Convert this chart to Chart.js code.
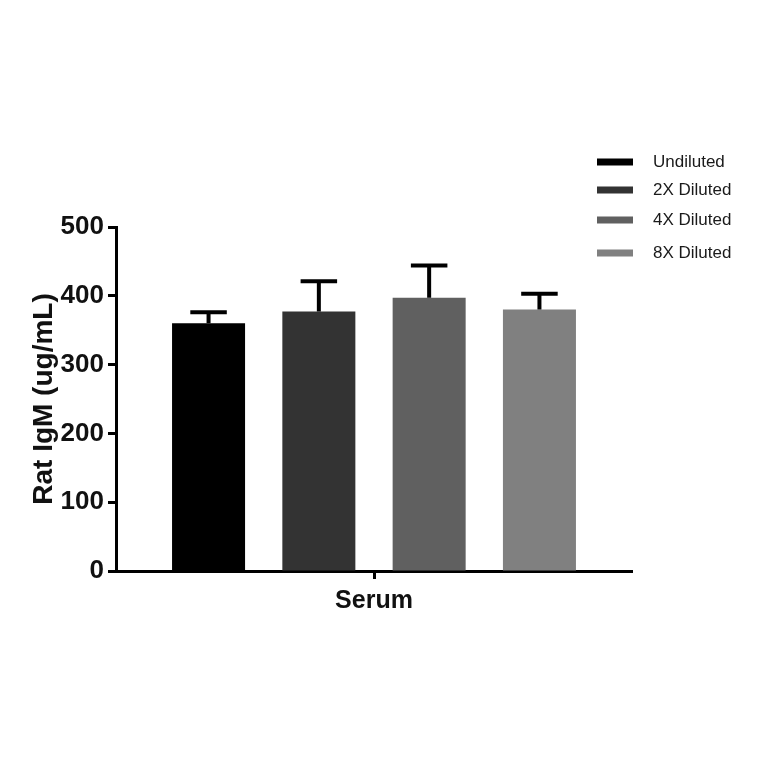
<!DOCTYPE html>
<html>
<head>
<meta charset="utf-8">
<script src="https://cdn.jsdelivr.net/npm/chart.js@4.4.1/dist/chart.umd.min.js"></script>
<style>
  html, body { margin: 0; padding: 0; background: #fff; }
  canvas { display: block; }
</style>
</head>
<body>
<canvas id="igmChart" width="764" height="764"></canvas>
<script>
// --- DATA ---
const categories = ['Serum'];
const seriesNames = ['Undiluted', '2X Diluted', '4X Diluted', '8X Diluted'];
const meanValues = [360, 377, 397, 380];
const errorTops = [376, 421, 444, 403];   // mean + SD
const barColors = ['#000000', '#333333', '#606060', '#808080'];
const yTicks = [0, 100, 200, 300, 400, 500];

const axisFont = 'Liberation Sans, Arial, sans-serif';

// --- ERROR BARS (upper only, like the original) ---
const errorBarPlugin = {
    id: 'errorBars',
    afterDatasetsDraw(chart) {
        const ctx = chart.ctx;
        const y = chart.scales.y;
        ctx.save();
        ctx.strokeStyle = '#000';
        ctx.lineWidth = 4;
        chart.data.datasets.forEach((ds, i) => {
            const bar = chart.getDatasetMeta(i).data[0];
            const top = y.getPixelForValue(errorTops[i]);
            const half = bar.width / 4;
            ctx.beginPath();
            ctx.moveTo(bar.x, bar.y);
            ctx.lineTo(bar.x, top);
            ctx.moveTo(bar.x - half, top);
            ctx.lineTo(bar.x + half, top);
            ctx.stroke();
        });
        ctx.restore();
    }
};

// --- LEGEND (top right, outside the plot) ---
const legendRows = [162, 190, 220, 253];
const sideLegendPlugin = {
    id: 'sideLegend',
    afterDraw(chart) {
        const ctx = chart.ctx;
        ctx.save();
        ctx.font = '17px ' + axisFont;
        ctx.textBaseline = 'middle';
        seriesNames.forEach((name, i) => {
            ctx.fillStyle = barColors[i];
            ctx.fillRect(597, legendRows[i] - 3.5, 36, 7);
            ctx.fillStyle = '#1a1a1a';
            ctx.fillText(name, 653, legendRows[i]);
        });
        ctx.restore();
    }
};

const ctx = document.getElementById('igmChart').getContext('2d');
const igmChart = new Chart(ctx, {
    type: 'bar',
    data: {
        labels: categories,
        datasets: seriesNames.map((name, i) => ({
            label: name,
            data: [meanValues[i]],
            backgroundColor: barColors[i],
            borderWidth: 0,
            categoryPercentage: 0.855,
            barPercentage: 0.662
        }))
    },
    options: {
        responsive: false,
        animation: false,
        devicePixelRatio: 1,
        layout: { padding: { left: 0, right: 132, top: 227, bottom: 0 } },
        plugins: { legend: { display: false }, tooltip: { enabled: false } },
        scales: {
            x: {
                afterFit(scale) { scale.height = 193; },
                grid: { offset: false, drawOnChartArea: false, tickLength: 8, tickWidth: 3, tickColor: '#000' },
                border: { color: '#000', width: 3 },
                ticks: { color: '#111', padding: 7, font: { family: axisFont, size: 25, weight: 'bold' } }
            },
            y: {
                min: 0,
                max: 500,
                afterFit(scale) { scale.width = 116; },
                afterBuildTicks(scale) { scale.ticks = yTicks.map(v => ({ value: v })); },
                grid: { drawOnChartArea: false, tickLength: 8, tickWidth: 3, tickColor: '#000' },
                border: { color: '#000', width: 3 },
                ticks: { color: '#111', padding: 4, font: { family: axisFont, size: 26, weight: 'bold' } },
                title: {
                    display: true,
                    text: 'Rat IgM (ug/mL)',
                    color: '#111',
                    padding: { top: 27, bottom: 0 },
                    font: { family: axisFont, size: 28, weight: 'bold' }
                }
            }
        }
    },
    plugins: [errorBarPlugin, sideLegendPlugin]
});
</script>
</body>
</html>
